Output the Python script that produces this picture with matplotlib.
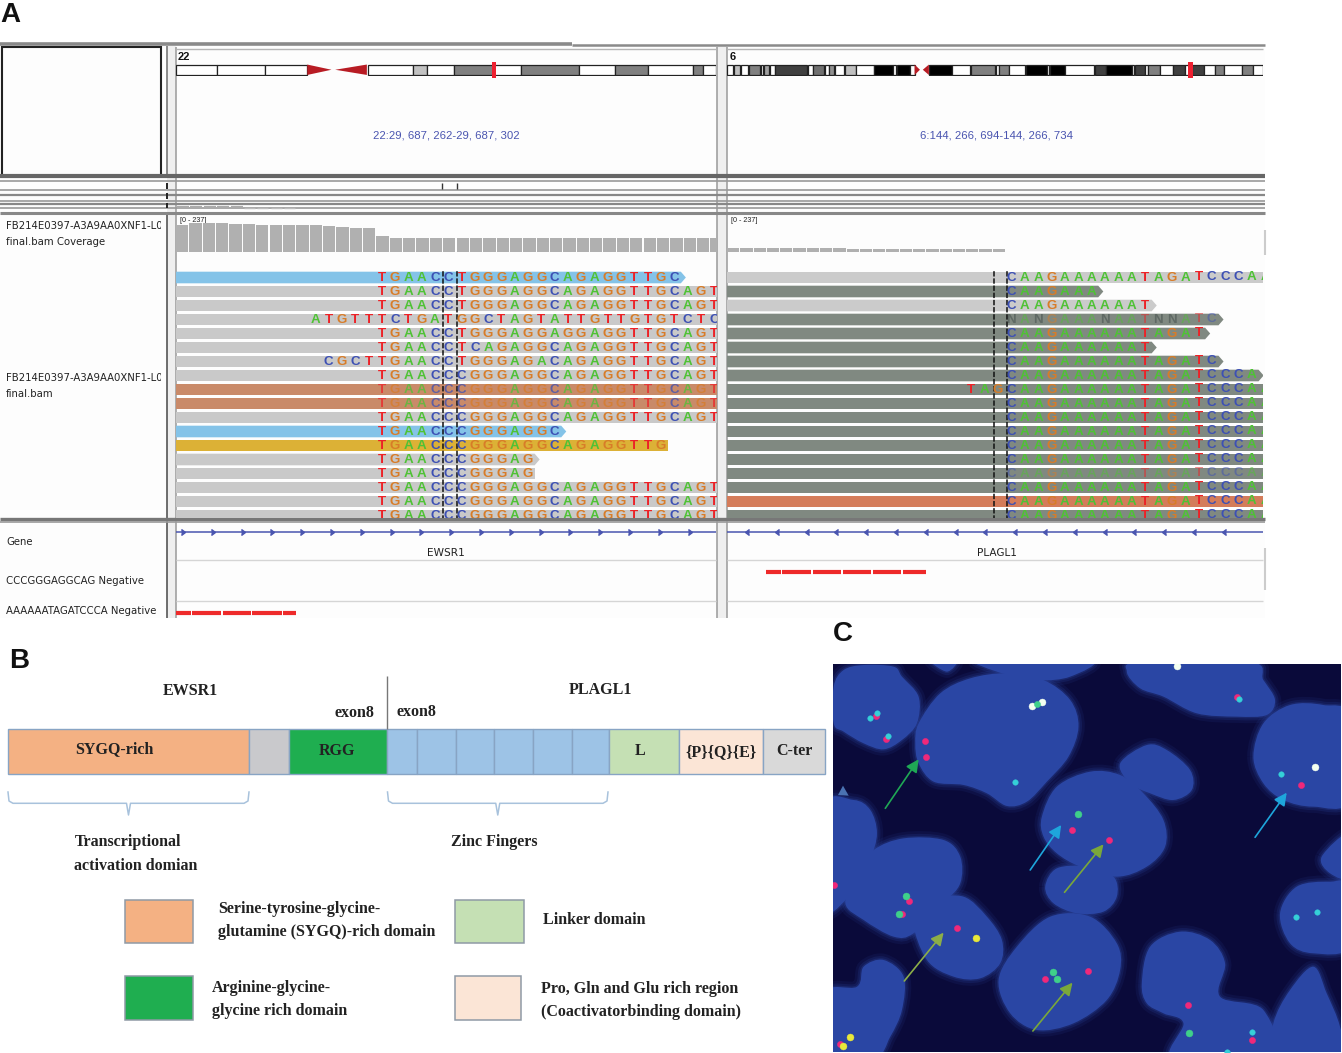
import numpy as np
import matplotlib
matplotlib.use("Agg")
import matplotlib.pyplot as plt
from matplotlib.patches import Rectangle, Polygon, PathPatch
from matplotlib.path import Path
from matplotlib.transforms import Bbox, TransformedBbox

W, H = 1342, 1053
SANS = "Liberation Sans"
SERIF = "Liberation Serif"

# ---------- panel A data ----------
FULL_L1 = "TGAACCTGGGAGGCAGAGGTTGCAGT"
FULL_L2 = "TGAACCCGGGAGGCAGAGGTTGCAGT"
left_seqs = ["TGAACCTGGGAGGCAGAGGTTGC", FULL_L1, FULL_L1,
             "ATGTTTCTGATGGCTAGTATTGTTGTGTCTC", "TGAACCTGGGAGGAGGAGGTTGCAGT",
             "TGAACCTCAGAGGCAGAGGTTGCAGT", "CGCTTGAACCTGGGAGACAGAGGTTGCAGT",
             FULL_L2, FULL_L2, FULL_L2, FULL_L2, "TGAACCCGGGAGGC",
             "TGAACCCGGGAGGCAGAGGTTG", "TGAACCCGGGAG", "TGAACCCGGGAG",
             FULL_L2, FULL_L2, FULL_L2]
left_starts = [0, 0, 0, -5, 0, 0, -4, 0, 0, 0, 0, 0, 0, 0, 0, 0, 0, 0]
left_fill = ["blue", "gray", "gray", "gray", "gray", "gray", "gray", "gray", "brown", "brown",
             "gray", "blue", "gold", "gray", "gray", "gray", "gray", "gray"]
left_arrow = [1, 0, 0, 0, 0, 0, 0, 0, 0, 0, 0, 1, 0, 1, 0, 0, 0, 0]

FULL_R = "CAAGAAAAAATAGATCCCAA"
right_seqs = [FULL_R, "CAAGAAA", "CAAGAAAAAAT", "NANGAAANAATNNATC", "CAAGAAAAAATAGAT",
              "CAAGAAAAAAT", "CAAGAAAAAATAGATC", "CAAGAAAAAATAGATCCCA", "TAGCAAGAAAAAATAGATCCCAA",
              FULL_R, FULL_R, FULL_R, FULL_R, FULL_R, FULL_R, FULL_R, FULL_R, FULL_R]
right_starts = [0, 0, 0, 0, 0, 0, 0, 0, -3, 0, 0, 0, 0, 0, 0, 0, 0, 0]
right_fill = ["light", "dark", "light", "dark", "dark", "dark", "dark", "dark", "dark", "dark",
              "dark", "dark", "dark", "dark", "dark", "dark", "orange", "dark"]
right_arrow = [0, 1, 1, 1, 1, 1, 1, 1, 0, 0, 0, 0, 0, 0, 0, 0, 0, 0]
right_muted = [3, 14]

fill_colors = {"blue": "#84c3e8", "gray": "#c9c9c9", "brown": "#c98a69", "gold": "#dcb136",
               "light": "#cbcbcb", "dark": "#808981", "orange": "#d47c5a"}
base_colors = {"T": "#ec2227", "C": "#3d50b4", "G": "#d87c28", "A": "#4fc235", "N": "#3f4a48"}

cov_left = [171, 181, 181, 181, 175, 175, 168, 168, 168, 168, 168, 162, 156, 150, 150,
            100, 91, 91, 91, 91, 91, 91, 91, 91, 91, 91, 87, 87, 87, 87, 87, 87, 87, 87, 87,
            87, 87, 87, 87, 87, 87]
cov_right = [29, 29, 29, 29, 29, 29, 29, 29, 29, 21, 21, 21, 21, 21, 21, 21, 21, 21, 21, 21, 21]
cov_max = 237

chr22_bands = [(378, 466, "#ffffff"), (466, 569, "#ffffff"), (569, 660, "#ffffff"), (790, 888, "#ffffff"),
               (888, 918, "#c2c2c2"), (918, 975, "#ffffff"), (975, 1060, "#808080"), (1060, 1120, "#ffffff"),
               (1120, 1243, "#808080"), (1243, 1320, "#ffffff"), (1320, 1392, "#808080"), (1392, 1488, "#ffffff"),
               (1488, 1510, "#808080"), (1510, 1538, "#ffffff")]
chr22_cen = [(660, 712), (788, 720)]
chr22_mark = 1061
chr6_bands = [(20, 38, "#ffffff"), (40, 55, "#c0c0c0"), (58, 80, "#ffffff"), (82, 112, "#808080"),
              (114, 122, "#ffffff"), (124, 138, "#a0a0a0"), (140, 153, "#ffffff"), (155, 245, "#404040"),
              (247, 260, "#ffffff"), (262, 292, "#707070"), (294, 305, "#ffffff"), (306, 320, "#909090"),
              (322, 347, "#ffffff"), (350, 380, "#c0c0c0"), (382, 430, "#ffffff"), (431, 485, "#000000"),
              (485, 494, "#ffffff"), (495, 532, "#000000"), (533, 545, "#ffffff"), (585, 650, "#000000"),
              (650, 700, "#ffffff"), (702, 770, "#808080"), (772, 780, "#ffffff"), (782, 808, "#808080"),
              (810, 855, "#ffffff"), (856, 915, "#000000"), (915, 922, "#ffffff"), (923, 967, "#000000"),
              (967, 1048, "#ffffff"), (1050, 1080, "#404040"), (1080, 1152, "#000000"), (1152, 1160, "#ffffff"),
              (1162, 1190, "#404040"), (1190, 1197, "#ffffff"), (1198, 1232, "#808080"), (1232, 1267, "#ffffff"),
              (1267, 1302, "#404040"), (1302, 1322, "#ffffff"), (1322, 1355, "#404040"), (1355, 1385, "#ffffff"),
              (1385, 1410, "#808080"), (1410, 1462, "#ffffff"), (1462, 1492, "#808080"), (1492, 1520, "#ffffff")]
chr6_cen = [(545, 560), (585, 568)]
chr6_mark = 1316

track_lines = [(176, 3.0, "#666666"), (181, 1.2, "#999999"), (190, 1.2, "#999999"), (195, 1.6, "#888888"),
               (201, 1.2, "#999999"), (204, 1.6, "#888888"), (208, 1.2, "#999999"), (212.5, 2.2, "#888888"),
               (518.5, 2.4, "#777777"), (522, 1.2, "#999999")]
red_left = [(176, 191), (192, 221), (222.5, 251), (252, 282), (283, 296)]
red_right = [(766, 781), (782, 811), (813, 841), (843, 871), (873, 901), (903, 926)]
gene_ticks_left = [185 + 29.8 * k for k in range(18)]
gene_ticks_right = [745 + 29.8 * k for k in range(17)]

# ---------- panel B data ----------
domain_edges = [8, 249, 288.5, 386.5, 417, 456, 494, 533, 572, 609, 678.5, 763, 825]
domain_colors = ["#f4b183", "#c9c9cc", "#1fae50", "#9dc3e6", "#9dc3e6", "#9dc3e6", "#9dc3e6", "#9dc3e6",
                 "#9dc3e6", "#c5e0b4", "#fbe5d6", "#d9d9d9"]
domain_labels = [("SYGQ-rich", 114, 749), ("RGG", 337, 751), ("L", 640, 751),
                 ("{P}{Q}{E}", 721, 752), ("C-ter", 794, 751)]
legend_boxes = [(124.5, 899.5, 68, 43, "#f4b183"), (455, 899.5, 69, 43, "#c5e0b4"),
                (124.5, 976, 68, 44, "#1fae50"), (455, 976, 66, 44, "#fbe5d6")]
b_texts = [("EWSR1", 190, 691, "center"), ("PLAGL1", 600, 690, "center"), ("exon8", 354, 713, "center"),
           ("exon8", 416, 712.5, "center"), ("Transcriptional", 75, 842, "left"),
           ("activation domian", 74.5, 866, "left"), ("Zinc Fingers", 451, 842, "left"),
           ("Serine-tyrosine-glycine-", 218, 909, "left"), ("glutamine (SYGQ)-rich domain", 218, 932, "left"),
           ("Linker domain", 543, 920, "left"), ("Arginine-glycine-", 212, 988, "left"),
           ("glycine rich domain", 212, 1011, "left"), ("Pro, Gln and Glu rich region", 541, 989, "left"),
           ("(Coactivatorbinding domain)", 541, 1012, "left")]

# ---------- panel C data (image coordinates) ----------
cells = [
    [(10, 80), (40, 30), (100, 15), (190, 20), (215, 50), (265, 110), (260, 190), (215, 240), (160, 268), (100, 250), (40, 215), (10, 190)],
    [(265, 190), (330, 100), (420, 55), (530, 40), (640, 60), (720, 120), (745, 200), (715, 290), (650, 365), (590, 425), (530, 438), (470, 400), (400, 375), (310, 365), (265, 310), (255, 250)],
    [(890, 35), (930, 5), (1260, 5), (1300, 60), (1335, 120), (1310, 165), (1220, 170), (1100, 160), (1000, 110), (930, 85)],
    [(1270, 290), (1300, 190), (1380, 135), (1480, 135), (1560, 170), (1560, 420), (1450, 440), (1360, 420), (1300, 370)],
    [(870, 310), (950, 255), (1010, 270), (1080, 330), (1085, 390), (1030, 420), (960, 400), (900, 370)],
    [(635, 470), (680, 380), (780, 335), (870, 345), (940, 400), (1000, 480), (1005, 560), (950, 620), (860, 650), (750, 620), (680, 580), (640, 530)],
    [(645, 680), (680, 625), (770, 620), (850, 650), (860, 710), (820, 755), (740, 760), (670, 730)],
    [(-20, 440), (70, 420), (120, 450), (140, 520), (120, 600), (80, 680), (-20, 750)],
    [(45, 730), (80, 640), (130, 570), (220, 535), (340, 540), (390, 590), (390, 670), (340, 730), (250, 820), (190, 830), (100, 780)],
    [(250, 780), (310, 720), (400, 710), (470, 770), (515, 840), (510, 910), (450, 955), (370, 950), (290, 900)],
    [(-20, 1000), (80, 980), (100, 920), (160, 900), (220, 950), (215, 1050), (180, 1130), (130, 1200), (-20, 1200)],
    [(505, 960), (560, 860), (660, 770), (780, 770), (860, 850), (870, 930), (830, 1020), (730, 1090), (620, 1110), (540, 1060)],
    [(935, 970), (960, 860), (1050, 815), (1140, 840), (1185, 910), (1170, 1010), (1300, 1050), (1325, 1200), (1030, 1200), (1060, 1090), (1000, 1060), (950, 1030)],
    [(1330, 1090), (1380, 990), (1450, 920), (1490, 1000), (1530, 1100), (1540, 1200), (1330, 1200)],
    [(1350, 760), (1400, 680), (1500, 665), (1560, 680), (1560, 860), (1450, 880), (1380, 850)],
    [(1475, 590), (1560, 520), (1560, 650), (1500, 640)],
    [(300, 0), (350, 35), (380, 0)],
    [(450, 0), (500, 35), (620, 60), (720, 50), (780, 0)],
]
red_dots = [(283, 242), (287, 292), (725, 510), (838, 540), (1412, 376), (380, 805), (645, 957), (773, 932),
            (237, 722), (1074, 1036), (1265, 1140), (168, 236), (138, 168), (216, 762), (10, 675), (1222, 110),
            (30, 1152)]
green_dots = [(742, 462), (667, 936), (681, 956), (226, 708), (205, 762), (1078, 1120)]
teal_dots = [(1267, 1116), (120, 175), (140, 160), (172, 228), (555, 367), (1228, 118), (1352, 343), (1398, 770),
             (1462, 757), (1190, 1175)]
yellow_dots = [(60, 1130), (37, 1158), (437, 834)]
white_dots = [(605, 138), (635, 127), (1455, 322), (1040, 18)]
link_dots = [(620, 132)]
arrows_c = [((165, 445), (265, 298), "#1fa855"), ((600, 630), (693, 495), "#1ea6dc"),
            ((703, 697), (820, 553), "#7aa83a"), ((1275, 532), (1370, 398), "#1ea6dc"),
            ((222, 963), (340, 818), "#8cae48"), ((608, 1113), (727, 968), "#7aa83a")]

# ---------- figure ----------
fig = plt.figure(figsize=(W / 100, H / 100), dpi=100, facecolor="white")
ax = fig.add_axes([0, 0, 1, 1])
ax.set_xlim(0, W)
ax.set_ylim(H, 0)
ax.axis("off")


def px_axes(x0, y0, x1, y1):
    a = fig.add_axes([x0 / W, 1 - y1 / H, (x1 - x0) / W, (y1 - y0) / H])
    a.axis("off")
    return a


def hline(x0, x1, y, lw=1, c="#888888"):
    ax.plot([x0, x1], [y, y], color=c, lw=lw, solid_capstyle="butt")


def vline(x, y0, y1, lw=1, c="#888888"):
    ax.plot([x, x], [y0, y1], color=c, lw=lw, solid_capstyle="butt")


# panel A backgrounds
ax.add_patch(Rectangle((0, 46), 1265, 572, fc="#fdfdfd", ec="none"))
ax.add_patch(Rectangle((167, 46), 9, 572, fc="#efefef", ec="none"))
ax.add_patch(Rectangle((717, 46), 10, 572, fc="#efefef", ec="none"))
hline(0, 572, 44.3, 2.6, "#8a8a8a")
hline(572, 1265, 44.8, 1.8, "#8a8a8a")
ax.add_patch(Rectangle((1.5, 46.5), 159.5, 129, fc="#fdfdfd", ec="#222222", lw=1.5))
for x in (176, 716.5, 727):
    vline(x, 47, 618, 1.1, "#999999")
vline(167, 46, 176, 1.2, "#777777")
vline(167, 214, 618, 1.2, "#555555")
hline(176, 716, 48.5, 1, "#b5b5b5")
hline(727, 1263, 48.5, 1, "#b5b5b5")
for y, lw, c in track_lines:
    hline(0, 1265, y, lw, c)
vline(442, 183, 189, 1, "#333333")
vline(457, 183, 189, 1, "#333333")
for y0, y1 in ((183, 189), (193, 199), (203, 208)):
    vline(167, y0, y1, 1.4, "#222222")
for k in range(5):
    hline(177 + 13.4 * k, 189 + 13.4 * k, 207, 1.6, "#aaaaaa")
for k in range(4):
    hline(244 + 13.4 * k, 255 + 13.4 * k, 207.5, 1, "#bbbbbb")
vline(1265, 230, 255, 1.5, "#cccccc")
vline(1265, 548, 590, 1.5, "#cccccc")


def ideogram(box, bands, cen, xlim):
    a = px_axes(box[0], box[1] - 1, box[2], box[3] + 1)
    a.set_xlim(*xlim)
    a.set_ylim(1.1, -0.1)
    for s, e, c in bands:
        a.add_patch(Rectangle((s, 0), e - s, 1, fc=c, ec="#222222", lw=0.9))
    for s, tip in cen:
        a.add_patch(Polygon([(s, 0), (s, 1), (tip, 0.5)], fc="#b81c24", ec="none"))
    return a


ideogram((176, 64.5, 716, 75), chr22_bands, chr22_cen, (378, 1538))
ideogram((727, 64.5, 1263, 75), chr6_bands, chr6_cen, (20, 1520))
fig.add_artist(Rectangle((chr22_mark / 2.148 - 1.8, 62), 3.6, 15.5, transform=ax.transData, fc="#ee2030", ec="none", zorder=9))
fig.add_artist(Rectangle((720 + chr6_mark / 2.8 - 2.5, 62), 5, 15.5, transform=ax.transData, fc="#ee2030", ec="none", zorder=9))
ax.text(178, 56.5, "22", fontsize=8, family=SANS, weight="bold", va="center", color="#111111")
ax.text(730, 56.5, "6", fontsize=8, family=SANS, weight="bold", va="center", color="#111111")
ax.text(446, 135, "22:29, 687, 262-29, 687, 302", fontsize=8.2, family=SANS, ha="center", va="center", color="#4a55b0")
ax.text(997, 135, "6:144, 266, 694-144, 266, 734", fontsize=8.2, family=SANS, ha="center", va="center", color="#4a55b0")

# left labels
clip = TransformedBbox(Bbox([[0, 200], [161, 640]]), ax.transData)
for s, y in (("FB214E0397-A3A9AA0XNF1-L00", 226), ("final.bam Coverage", 242),
             ("FB214E0397-A3A9AA0XNF1-L00", 378), ("final.bam", 394), ("Gene", 542),
             ("CCCGGGAGGCAG Negative", 581), ("AAAAAATAGATCCCA Negative", 611)):
    t = ax.text(6, y, s, fontsize=7.3, family="DejaVu Sans", va="center", color="#222222")
    t.set_clip_box(clip)
    t.set_clip_on(True)


# coverage tracks
def coverage(box, nbins, vals):
    a = px_axes(*box)
    a.set_xlim(0, nbins)
    a.set_ylim(0, cov_max)
    a.bar(np.arange(len(vals)), vals, width=0.92, align="edge", color="#b0b0b0")


coverage((176, 214, 717, 252.5), 40.5, cov_left)
coverage((727, 214, 1006, 252.5), 21, cov_right)
ax.text(180, 220, "[0 - 237]", fontsize=5.2, family=SANS, va="center", color="#222222")
ax.text(731, 220, "[0 - 237]", fontsize=5.2, family=SANS, va="center", color="#222222")


# alignment tracks
def reads(box, pitch, origin, seqs, starts, fills, arrow, faded, muted, dashes, shift_from=None):
    a = px_axes(*box)
    xl = ((box[0] - origin) / pitch, (box[2] - origin) / pitch)
    a.set_xlim(*xl)
    a.set_ylim((box[3] - 277.5) / 14, (box[1] - 277.5) / 14)
    for i, (sq, st, f, ar) in enumerate(zip(seqs, starts, fills, arrow)):
        end = st + len(sq) - 1
        h = 0.415
        if ar:
            pts = [(xl[0], i - h), (end + 0.5, i - h), (end + 0.88, i), (end + 0.5, i + h), (xl[0], i + h)]
        else:
            pts = [(xl[0], i - h), (end + 0.5, i - h), (end + 0.5, i + h), (xl[0], i + h)]
        a.add_patch(Polygon(pts, fc=fill_colors[f], ec="none"))
        alpha = 0.5 if i in muted else (0.75 if f in faded else 1.0)
        for j, ch in enumerate(sq):
            dy = -0.1 if shift_from is not None and st + j >= shift_from else 0.0
            a.text(st + j, i + 0.03 + dy, ch, fontsize=9.6, family=SANS, weight="bold", ha="center", va="center",
                   color=base_colors[ch], alpha=alpha, clip_on=True)
    for d in dashes:
        a.plot([d, d], [-1, 18], color="#111111", lw=1.1, ls=(0, (3.5, 1.2)))


reads((176, 271, 717, 518), 13.29, 381.8, left_seqs, left_starts, left_fill, left_arrow,
      ("brown",), (), [(443.2 - 381.8) / 13.29, (456.8 - 381.8) / 13.29])
reads((727, 271, 1263, 518), 13.36, 1011.4, right_seqs, right_starts, right_fill, right_arrow,
      (), right_muted, [(993.6 - 1011.4) / 13.36, (1006.8 - 1011.4) / 13.36], shift_from=14)

# gene track
hline(176, 716, 531.5, 1.1, "#4a55b0")
hline(727, 1263, 531.5, 1.1, "#4a55b0")
ax.plot(gene_ticks_left, [531.5] * len(gene_ticks_left), ls="", marker=5, ms=4, color="#4a55b0")
ax.plot(gene_ticks_right, [531.5] * len(gene_ticks_right), ls="", marker=4, ms=4, color="#4a55b0")
ax.text(446, 553, "EWSR1", fontsize=7.6, family="DejaVu Sans", ha="center", va="center", color="#222222")
ax.text(997, 553, "PLAGL1", fontsize=7.6, family="DejaVu Sans", ha="center", va="center", color="#222222")
for y in (560, 601):
    hline(176, 716, y, 1, "#d5d5d5")
    hline(727, 1263, y, 1, "#d5d5d5")
for s, e in red_left:
    hline(s, e, 612.7, 3, "#ee2a2a")
for s, e in red_right:
    hline(s, e, 572, 3, "#ee2a2a")

# panel letters
for s, x, y in (("A", 0, 15), ("B", 9, 661.5), ("C", 833, 634)):
    ax.text(x, y, s, fontsize=20, family=SANS, weight="bold", va="center", color="#111111")

# panel B
for s, e, c in zip(domain_edges[:-1], domain_edges[1:], domain_colors):
    ax.add_patch(Rectangle((s, 729), e - s, 44.5, fc=c, ec="#88a4c4", lw=1))
vline(386.5, 676, 729, 1, "#777777")
for s, x, y in domain_labels:
    ax.text(x, y, s, fontsize=11.5, family=SERIF, weight="bold", ha="center", va="center", color="#222222")
for s, x, y, ha in b_texts:
    ax.text(x, y, s, fontsize=11.5, family=SERIF, weight="bold", ha=ha, va="center", color="#222222")
for x0, x1 in ((8, 249), (387.5, 608)):
    xc = (x0 + x1) / 2
    ax.plot([x0, x0 + 1, x0 + 5, xc - 2, xc, xc + 2, x1 - 5, x1 - 1, x1],
            [792, 801, 803.3, 803.3, 815, 803.3, 803.3, 801, 792], color="#a8c2dc", lw=1.1)
for x, y, w, h, c in legend_boxes:
    ax.add_patch(Rectangle((x, y), w, h, fc=c, ec="#8f9aa6", lw=1.1))

# panel C
c_ax = px_axes(833, 664, 1341, 1052)
c_ax.set_xlim(8, 1533)
c_ax.set_ylim(1176, 12)
c_ax.add_patch(Rectangle((8, 12), 1525, 1164, fc="#0a0a3a", ec="none"))


def blob(pts):
    """Closed smooth outline passing through every listed vertex."""
    p = np.array(pts, float)
    n = len(p)
    verts = [p[0]]
    codes = [Path.MOVETO]
    for i in range(n):
        c1 = p[i] + (p[(i + 1) % n] - p[i - 1]) / 6
        c2 = p[(i + 1) % n] - (p[(i + 2) % n] - p[i]) / 6
        verts += [c1, c2, p[(i + 1) % n]]
        codes += [Path.CURVE4] * 3
    return Path(verts, codes)


for cell in cells:
    path = blob(cell)
    for lw, al in ((9, 0.12), (5, 0.2), (2, 0.3)):
        c_ax.add_patch(PathPatch(path, fc="none", ec="#2b459f", lw=lw, alpha=al))
for cell in cells:
    c_ax.add_patch(PathPatch(blob(cell), fc="#2a46a4", ec="none"))
for pts, col, size in ((red_dots, "#f0287a", 4.5), (green_dots, "#3fd08a", 5), (teal_dots, "#35d0d8", 4),
                       (yellow_dots, "#e8e83a", 5), (white_dots, "#f4fff0", 5), (link_dots, "#3fd08a", 4.5)):
    xs, ys = zip(*pts)
    c_ax.plot(xs, ys, ls="", marker="o", ms=size, mfc=col, mec=col, mew=0.3)
for p0, p1, col in arrows_c:
    c_ax.annotate("", xy=p1, xytext=p0,
                  arrowprops=dict(arrowstyle="-|>,head_length=0.75,head_width=0.38", color=col, lw=1.2,
                                  shrinkA=0, shrinkB=0))
c_ax.add_patch(Polygon([(23, 405), (38, 377), (55, 407)], fc="#4a72b2", ec="none"))

fig.savefig("out.png", dpi=100, facecolor="white")
